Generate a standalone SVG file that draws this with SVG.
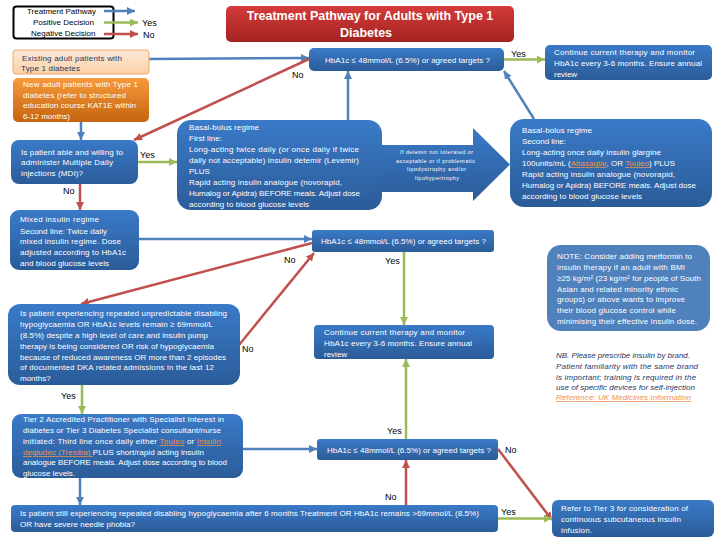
<svg xmlns="http://www.w3.org/2000/svg" width="720" height="540" viewBox="0 0 720 540">
<style>
text{font-family:"Liberation Sans",Arial,sans-serif;font-size:8px;fill:#fff}
.k{fill:#000;font-size:9px}
.lg{fill:#000;font-size:8px}
.sm{font-size:5.5px}
.t{font-size:12.5px;font-weight:bold;text-anchor:middle}
.d{fill:#1f3864;font-style:italic}
.lnk{fill:#f0924a;text-decoration:underline}
.o{fill:#1f3864}
.b{fill:url(#gb)}
.g{fill:none;stroke-width:2.5}
.bl{stroke:#4f81bd;marker-end:url(#mb)}
.gr{stroke:#9bbb59;marker-end:url(#mg)}
.re{stroke:#c0504d;marker-end:url(#mr)}
</style>
<defs>
<linearGradient id="gb" x1="0" y1="0" x2="0" y2="1"><stop offset="0" stop-color="#3a7ac8"/><stop offset="1" stop-color="#2b5c99"/></linearGradient>
<linearGradient id="go" x1="0" y1="0" x2="0" y2="1"><stop offset="0" stop-color="#f79a3c"/><stop offset="1" stop-color="#c4650f"/></linearGradient>
<linearGradient id="gl" x1="0" y1="0" x2="0" y2="1"><stop offset="0" stop-color="#fdeada"/><stop offset="1" stop-color="#fbd0a5"/></linearGradient>
<linearGradient id="gt" x1="0" y1="0" x2="0" y2="1"><stop offset="0" stop-color="#d43c3a"/><stop offset="1" stop-color="#a32220"/></linearGradient>
<marker id="mb" markerUnits="userSpaceOnUse" markerWidth="9" markerHeight="9" refX="8" refY="4" orient="auto"><path d="M0 0L8 4L0 8z" fill="#4f81bd"/></marker>
<marker id="mg" markerUnits="userSpaceOnUse" markerWidth="9" markerHeight="9" refX="8" refY="4" orient="auto"><path d="M0 0L8 4L0 8z" fill="#9bbb59"/></marker>
<marker id="mr" markerUnits="userSpaceOnUse" markerWidth="9" markerHeight="9" refX="8" refY="4" orient="auto"><path d="M0 0L8 4L0 8z" fill="#c0504d"/></marker>
</defs>

<g id="legend">
<rect x="13.500" y="6.500" width="100" height="32" rx="3" fill="#fff" stroke="#000" stroke-width="2"/>
<text class="lg" x="27" y="14">Treatment Pathway</text>
<text class="lg" x="33" y="25">Positive Decision</text>
<text class="lg" x="31" y="36">Negative Decision</text>
<text class="k" x="142" y="26">Yes</text>
<text class="k" x="143" y="38">No</text>
</g>

<g id="connectors">
<path class="g bl" d="M104 11H135"/>
<path class="g gr" d="M104 22.500H138"/>
<path class="g re" d="M104 34H138"/>
<path class="g bl" d="M149 59L309 58"/>
<path class="g re" d="M309 59L134 140"/>
<path class="g bl" d="M81 122V140"/>
<path class="g gr" d="M138 162H177"/>
<path class="g re" d="M80 184V210"/>
<path class="g bl" d="M348 120V71"/>
<path class="g gr" d="M503 59.500H545"/>
<path class="g bl" d="M534 119L504 71"/>
<path class="g bl" d="M139 239H312"/>
<path class="g re" d="M312 243L81 304"/>
<path class="g re" d="M239 345L314 253"/>
<path class="g gr" d="M404 252V325"/>
<path class="g gr" d="M406 439V359"/>
<path class="g gr" d="M82 385V414"/>
<path class="g bl" d="M243 449H317"/>
<path class="g bl" d="M80 478V505"/>
<path class="g re" d="M406 505V460"/>
<path class="g re" d="M498 449L552 520"/>
<path class="g gr" d="M498 518.500H552"/>
</g>

<g id="labels">
<text class="k" x="292" y="78">No</text>
<text class="k" x="140" y="158">Yes</text>
<text class="k" x="63" y="194">No</text>
<text class="k" x="511" y="57">Yes</text>
<text class="k" x="284" y="263">No</text>
<text class="k" x="385" y="264">Yes</text>
<text class="k" x="242" y="352">No</text>
<text class="k" x="61" y="399">Yes</text>
<text class="k" x="387" y="434">Yes</text>
<text class="k" x="505" y="453">No</text>
<text class="k" x="385" y="500">No</text>
<text class="k" x="501" y="515">Yes</text>
</g>

<g id="title">
<rect x="226" y="6" width="288" height="36" rx="5" fill="url(#gt)"/>
<text class="t" x="370" y="20">Treatment Pathway for Adults with Type 1</text>
<text class="t" x="366" y="37">Diabetes</text>
</g>

<g id="existing">
<rect x="13" y="50" width="136" height="24" rx="3" fill="url(#gl)" stroke="#f0a860"/>
<text class="o" x="22" y="61" textLength="100">Existing adult patients with</text>
<text class="o" x="21" y="71" textLength="59">Type 1 diabetes</text>
</g>

<g id="new">
<rect x="13" y="78" width="136" height="44" rx="5" fill="url(#go)"/>
<text x="23" y="87" textLength="115">New adult patients with Type 1</text>
<text x="23" y="98" textLength="103">diabetes (refer to structured</text>
<text x="23" y="108" textLength="113">education course KAT1E within</text>
<text x="23" y="119" textLength="47">6-12 months)</text>
</g>

<g id="mdi">
<rect class="b" x="11" y="140" width="127" height="44" rx="8"/>
<text x="21" y="155" textLength="102">Is patient able and willing to</text>
<text x="21" y="165" textLength="92">administer Multiple Daily</text>
<text x="21" y="176" textLength="62">injections (MDI)?</text>
</g>

<g id="basal1">
<rect class="b" x="177" y="120" width="205" height="90" rx="14"/>
<text x="189" y="130" textLength="70">Basal-bolus regime</text>
<text x="189" y="141" textLength="33">First line:</text>
<text x="189" y="152" textLength="170">Long-acting twice daily (or once daily if twice</text>
<text x="189" y="163" textLength="170">daily not acceptable) insulin detemir (Levemir)</text>
<text x="189" y="174">PLUS</text>
<text x="189" y="185" textLength="153">Rapid acting insulin analogue (novorapid,</text>
<text x="189" y="196" textLength="171">Humalog or Apidra) BEFORE meals. Adjust dose</text>
<text x="189" y="207" textLength="120">according to blood glucose levels</text>
</g>

<g id="hba1">
<rect class="b" x="309" y="48" width="195" height="23" rx="5"/>
<text x="325" y="63" textLength="165">HbA1c ≤ 48mmol/L (6.5%) or agreed targets ?</text>
</g>

<g id="continue1">
<rect class="b" x="545" y="45" width="167" height="35" rx="5"/>
<text x="554" y="55" textLength="141">Continue current therapy and monitor</text>
<text x="554" y="66" textLength="148">HbA1c every 3-6 months. Ensure annual</text>
<text x="554" y="77">review</text>
</g>

<g id="block-arrow">
<path class="b" d="M382 145H473V128L510 164.500L473 201V192H382Z"/>
<text class="sm" x="400" y="154" textLength="73">If detemir not tolerated or</text>
<text class="sm" x="396" y="163" textLength="79">acceptable or if problematic</text>
<text class="sm" x="407" y="171" textLength="59">lipodystrophy and/or</text>
<text class="sm" x="415" y="180" textLength="44">lipohypertrophy</text>
</g>

<g id="basal2">
<rect class="b" x="510" y="119" width="202" height="88" rx="14"/>
<text x="522" y="133" textLength="70">Basal-bolus regime</text>
<text x="522" y="144" textLength="44">Second line:</text>
<text x="522" y="155" textLength="139">Long-acting once daily insulin glargine</text>
<text x="522" y="166" textLength="153">100units/mL (<tspan class="lnk">Abasaglar</tspan>, OR <tspan class="lnk">Toujeo</tspan>) PLUS</text>
<text x="522" y="177" textLength="153">Rapid acting insulin analogue (novorapid,</text>
<text x="522" y="188" textLength="174">Humalog or Apidra) BEFORE meals. Adjust dose</text>
<text x="522" y="199" textLength="120">according to blood glucose levels</text>
</g>

<g id="mixed">
<rect class="b" x="10" y="210" width="129" height="60" rx="9"/>
<text x="20" y="222" textLength="79">Mixed insulin regime</text>
<text x="20" y="234" textLength="87">Second line: Twice daily</text>
<text x="20" y="244" textLength="101">mixed insulin regime. Dose</text>
<text x="20" y="255" textLength="106">adjusted according to HbA1c</text>
<text x="20" y="266" textLength="89">and blood glucose levels</text>
</g>

<g id="hba2">
<rect class="b" x="312" y="230" width="182" height="22" rx="3"/>
<text x="321" y="244" textLength="165">HbA1c ≤ 48mmol/L (6.5%) or agreed targets ?</text>
</g>

<g id="note">
<rect x="547" y="245" width="163" height="86" rx="14" fill="#4f81bd"/>
<text x="557" y="259" textLength="135">NOTE: Consider adding metformin to</text>
<text x="557" y="270" textLength="128">insulin therapy if an adult with BMI</text>
<text x="557" y="281" textLength="144">≥25 kg/m² (23 kg/m² for people of South</text>
<text x="557" y="292" textLength="121">Asian and related minority ethnic</text>
<text x="557" y="302" textLength="128">groups) or above wants to improve</text>
<text x="557" y="313" textLength="119">their blood glucose control while</text>
<text x="557" y="324" textLength="140">minimising their effective insulin dose.</text>
</g>

<g id="nb">
<text class="d" x="556" y="358" textLength="134">NB. Please prescribe insulin by brand.</text>
<text class="d" x="556" y="369" textLength="142">Patient familiarity with the same brand</text>
<text class="d" x="556" y="380" textLength="140">is important; training is required in the</text>
<text class="d" x="556" y="390" textLength="139">use of specific devices for self-injection</text>
<text class="d lnk" x="556" y="400" textLength="135">Reference: UK Medicines Information</text>
</g>

<g id="hypo">
<rect class="b" x="8" y="304" width="232" height="81" rx="12"/>
<text x="20" y="316" textLength="207">Is patient experiencing repeated unpredictable disabling</text>
<text x="20" y="327" textLength="193">hypoglycaemia OR HbA1c levels remain ≥ 69mmol/L</text>
<text x="20" y="338" textLength="188">(8.5%) despite a high level of care and insulin pump</text>
<text x="20" y="349" textLength="194">therapy is being considered OR risk of hypoglycaemia</text>
<text x="20" y="360" textLength="206">because of reduced awareness OR more than 2 episodes</text>
<text x="20" y="370" textLength="194">of documented DKA related admissions in the last 12</text>
<text x="20" y="381">months?</text>
</g>

<g id="continue2">
<rect class="b" x="314" y="325" width="180" height="34" rx="4"/>
<text x="324" y="335" textLength="141">Continue current therapy and monitor</text>
<text x="324" y="346" textLength="148">HbA1c every 3-6 months. Ensure annual</text>
<text x="324" y="357">review</text>
</g>

<g id="tier2">
<rect class="b" x="12" y="414" width="231" height="64" rx="9"/>
<text x="23" y="422" textLength="201">Tier 2 Accredited Practitioner with Specialist Interest in</text>
<text x="23" y="433" textLength="198">diabetes or Tier 3 Diabetes Specialist consultant/nurse</text>
<text x="23" y="444" textLength="198">initiated: Third line once daily either <tspan class="lnk">Toujeo</tspan> or <tspan class="lnk">insulin</tspan></text>
<text x="23" y="455" textLength="181"><tspan class="lnk">degludec (Tresiba) </tspan>PLUS short/rapid acting insulin</text>
<text x="23" y="465" textLength="204">analogue BEFORE meals. Adjust dose according to blood</text>
<text x="23" y="476" textLength="52">glucose levels.</text>
</g>

<g id="hba3">
<rect class="b" x="317" y="439" width="181" height="21" rx="3"/>
<text x="327" y="453" textLength="164">HbA1c ≤ 48mmol/L (6.5%) or agreed targets ?</text>
</g>

<g id="still">
<rect class="b" x="11" y="505" width="487" height="27" rx="4"/>
<text x="20" y="516" textLength="459">Is patient still experiencing repeated disabling hypoglycaemia after 6 months Treatment OR HbA1c remains &gt;69mmol/L (8.5%)</text>
<text x="20" y="527" textLength="115">OR have severe needle phobia?</text>
</g>

<g id="refer">
<rect class="b" x="552" y="500" width="162" height="37" rx="6"/>
<text x="561" y="511" textLength="127">Refer to Tier 3 for consideration of</text>
<text x="561" y="522" textLength="120">continuous subcutaneous insulin</text>
<text x="561" y="533" textLength="31">infusion.</text>
</g>
</svg>
